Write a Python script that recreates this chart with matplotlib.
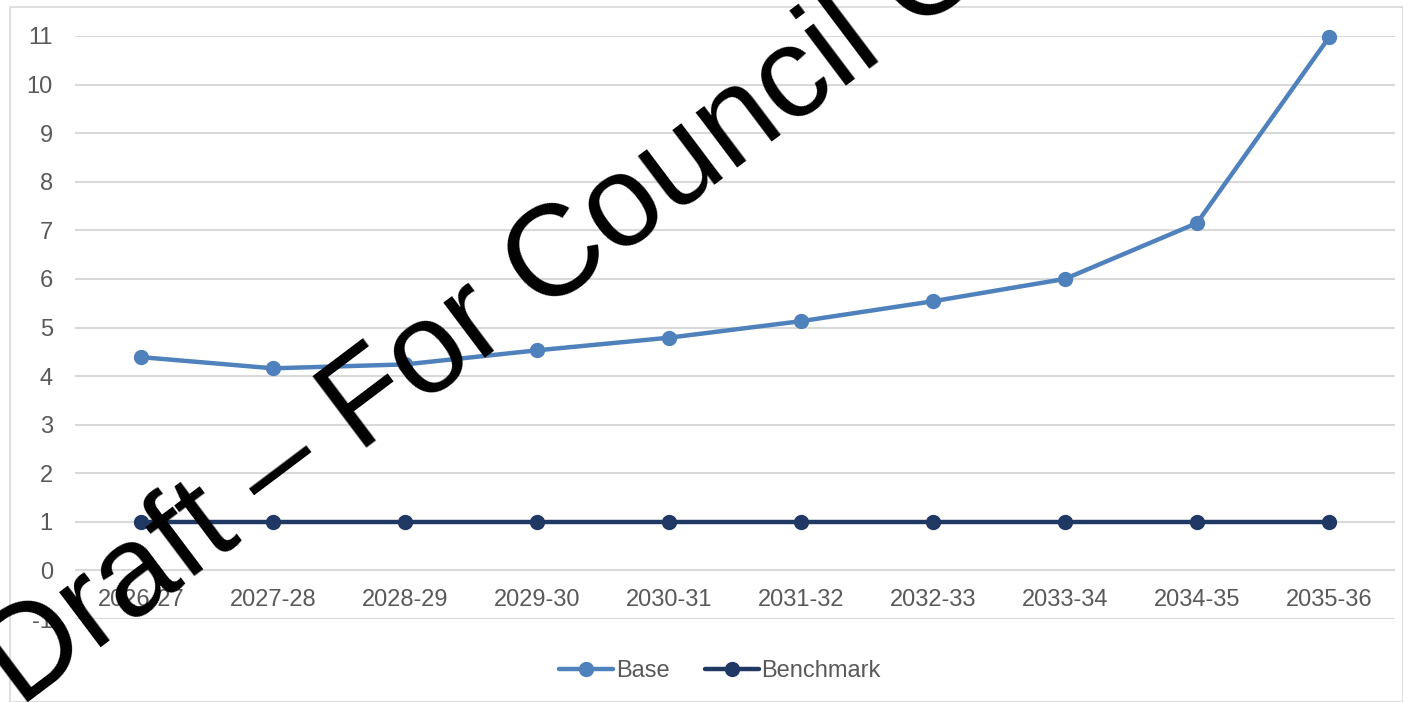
import matplotlib
matplotlib.use("Agg")
import matplotlib.pyplot as plt
import matplotlib.patches as patches
from matplotlib.lines import Line2D

plt.rcParams['font.family'] = ['Liberation Sans', 'DejaVu Sans']
plt.rcParams['axes.unicode_minus'] = False

years = ["2026-27", "2027-28", "2028-29", "2029-30", "2030-31",
         "2031-32", "2032-33", "2033-34", "2034-35", "2035-36"]
base = [4.39, 4.16, 4.24, 4.53, 4.79, 5.13, 5.54, 6.00, 7.15, 10.97]
benchmark = [1, 1, 1, 1, 1, 1, 1, 1, 1, 1]
y_ticks = list(range(-1, 12))

base_color = '#4f81bd'
bench_color = '#203864'
grid_color = '#d9d9d9'
text_color = '#595959'

W, H = 1403, 702
fig = plt.figure(figsize=(W/100, H/100), dpi=100)
# chart border
fig.patches.append(patches.Rectangle((10/W, 0), 1 - 10/W, 1 - 7/H, transform=fig.transFigure,
                                     fill=False, edgecolor='#d9d9d9', linewidth=1.2))
ax = fig.add_axes([75/W, 83/H, 1320/W, (619-36)/H])
ax.set_xlim(-0.5, len(years) - 0.5)
ax.set_ylim(-1, 11)
for s in ['top', 'right', 'left']:
    ax.spines[s].set_visible(False)
ax.spines['bottom'].set_position(('data', 0))
ax.spines['bottom'].set_visible(False)
ax.set_yticks(y_ticks)
ax.set_xticks(range(len(years)))
ax.set_xticklabels(years)
ax.tick_params(axis='both', length=0, labelsize=17, labelcolor=text_color)
ax.tick_params(axis='y', pad=16)
ax.tick_params(axis='x', pad=13.5)
ax.grid(axis='y', color=grid_color, linewidth=1.5)
ax.set_axisbelow(True)

xs = list(range(len(years)))
ax.plot(xs, base, marker='o', markersize=10, color=base_color, linewidth=3.2, zorder=4, clip_on=False)
ax.plot(xs, benchmark, marker='o', markersize=10, color=bench_color, linewidth=3.2, zorder=4, clip_on=False)

handles = [Line2D([], [], color=base_color, marker='o', markersize=10, linewidth=3.2, solid_capstyle='round'),
           Line2D([], [], color=bench_color, marker='o', markersize=10, linewidth=3.2, solid_capstyle='round')]
fig.legend(handles, ["Base", "Benchmark"], loc='center', bbox_to_anchor=(720/W, 1 - 671/H),
           ncol=2, frameon=False, fontsize=17, labelcolor=text_color, handlelength=2.3,
           handletextpad=0.1, columnspacing=1.5)

# watermark
fig.text(20/W, -6/H, "Draft \u2013 For Council Only", fontsize=93, color='black',
         rotation=37, rotation_mode='anchor', ha='left', va='baseline', zorder=10,
         family=['Liberation Sans', 'DejaVu Sans'])

fig.savefig("out.png", dpi=100)
